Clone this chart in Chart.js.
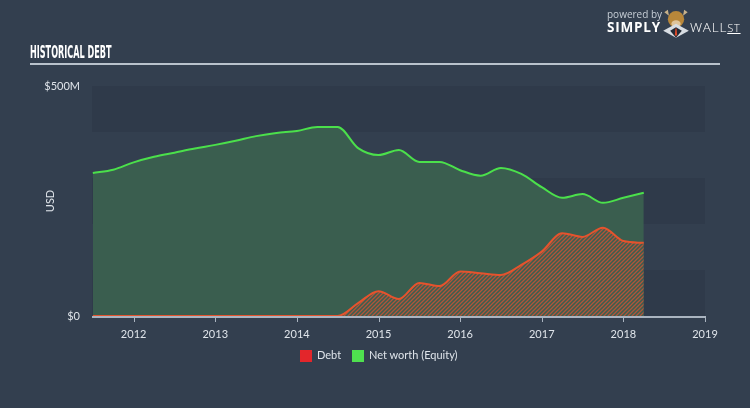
<!DOCTYPE html>
<html>
<head>
<meta charset="utf-8">
<script src="https://cdn.jsdelivr.net/npm/chart.js@4/dist/chart.umd.min.js"></script>
<style>
  html, body { margin:0; padding:0; background:#333f4f; }
  #wrap { position:relative; width:750px; height:408px; background:#333f4f; overflow:hidden; font-family: Lato, "Open Sans", sans-serif; }
  #c { position:absolute; left:0; top:0; }
  #title { position:absolute; left:30px; top:41px; color:#ffffff; font-family:"DejaVu Sans Condensed","Liberation Sans Narrow",sans-serif; font-weight:bold; font-size:18px; transform:scaleX(0.5); transform-origin:0 0; white-space:nowrap; }
  #rule { position:absolute; left:30px; top:63px; width:690px; height:2px; background:#b9c2cc; }
  #logo1 { position:absolute; left:607px; top:7px; color:#c7ced6; font-size:10px; font-family:"Open Sans",sans-serif; }
  #logo2 { position:absolute; left:607px; top:18px; color:#ffffff; font-size:13.5px; font-weight:bold; font-family:"Open Sans",sans-serif; letter-spacing:0.8px; }
  #logo3 { position:absolute; left:690px; top:18px; color:#ffffff; font-size:13.5px; font-family:"Open Sans",sans-serif; letter-spacing:0.8px; font-weight:300; }
  #logo3 span { text-decoration: underline; font-size:11px; }
  #bull { position:absolute; left:662px; top:5px; width:28px; height:33px; }
  .sw { position:absolute; width:12px; height:12px; top:350px; }
  .lt { position:absolute; top:348px; font-size:11px; color:#dfe4ea; font-family:Lato,sans-serif; white-space:nowrap; }
</style>
</head>
<body>
<div id="wrap">
  <canvas id="c" width="750" height="408"></canvas>
  <div id="title">HISTORICAL DEBT</div>
  <div id="rule"></div>
  <div id="logo1">powered by</div>
  <div id="logo2">SIMPLY</div>
  <svg id="bull" viewBox="0 0 24 28">
    <path d="M2 6 L6 9 L5 4 Z M22 6 L18 9 L19 4 Z" fill="#c9b28a"/>
    <ellipse cx="12" cy="12" rx="7" ry="7" fill="#b8873a"/>
    <ellipse cx="12" cy="16" rx="4" ry="3" fill="#e0c49a"/>
    <path d="M1 22 L12 28 L23 22 L12 16 Z" fill="#d8dde3"/>
    <path d="M7 22 L12 28 L17 22 L12 19 Z" fill="#222a35"/>
    <path d="M11.5 20 L12.5 20 L13 26 L11 26 Z" fill="#e04a2a"/>
  </svg>
  <div id="logo3">WALL<span>ST</span></div>
  <div class="sw" style="left:300px;background:#e3262b"></div>
  <div class="lt" style="left:317px">Debt</div>
  <div class="sw" style="left:352px;background:#4fe04f"></div>
  <div class="lt" style="left:369px">Net worth (Equity)</div>
</div>
<script>
// ---- data (USD millions) ----
const dates = [2011.5,2011.75,2012,2012.25,2012.5,2012.75,2013,2013.25,2013.5,2013.75,2014,2014.25,2014.5,2014.75,2015,2015.25,2015.5,2015.75,2016,2016.25,2016.5,2016.75,2017,2017.25,2017.5,2017.75,2018,2018.25];
const debt = [0,0,0,0,0,0,0,0,0,0,0,0,0,28,54,37,72,65,97,93,89,111,140,180,172,192,163,159];
const netWorth = [311,318,334,346,355,364,372,381,391,398,402,411,411,365,350,361,335,335,317,305,322,309,280,257,265,246,257,268];
const xTicks = [2012,2013,2014,2015,2016,2017,2018,2019];
const yLabels = {0:'$0', 500:'$500M'};

function pts(vals){ return dates.map((d,i)=>({x:d,y:vals[i]})); }

// hatch pattern for debt fill
const pc = document.createElement('canvas');
pc.width = 4; pc.height = 4;
const g = pc.getContext('2d');
g.fillStyle = '#3a5e4f'; g.fillRect(0,0,4,4);
g.strokeStyle = '#b0553a'; g.lineWidth = 1.3;
g.beginPath();
g.moveTo(-1,5); g.lineTo(5,-1);
g.moveTo(-1,1); g.lineTo(1,-1);
g.moveTo(3,5); g.lineTo(5,3);
g.stroke();
const hatch = document.getElementById('c').getContext('2d').createPattern(pc,'repeat');

const bands = {
  id:'bands',
  beforeDraw(chart){
    const {ctx, chartArea:a, scales:{y}} = chart;
    ctx.save();
    ctx.fillStyle = '#2f3a4a';
    [[400,500],[200,300],[0,100]].forEach(([lo,hi])=>{
      const t = y.getPixelForValue(hi), b = y.getPixelForValue(lo);
      ctx.fillRect(a.left, t, a.right-a.left, b-t);
    });
    ctx.restore();
  },
  afterDraw(chart){
    const {ctx, chartArea:a, scales:{x}} = chart;
    ctx.save();
    ctx.strokeStyle = '#aab4c0';
    ctx.lineWidth = 1;
    ctx.beginPath();
    xTicks.forEach(v=>{
      const px = Math.round(x.getPixelForValue(v)) + 0.5;
      ctx.moveTo(px, a.bottom); ctx.lineTo(px, a.bottom + 6);
    });
    ctx.stroke();
    ctx.lineWidth = 2;
    ctx.beginPath();
    ctx.moveTo(a.left, a.bottom + 1); ctx.lineTo(a.right, a.bottom + 1);
    ctx.stroke();
    ctx.restore();
  }
};

new Chart(document.getElementById('c'), {
  type:'line',
  data:{
    datasets:[
      { label:'Debt', data:pts(debt), borderColor:'#e5532d', borderWidth:2, backgroundColor:hatch, fill:'origin', pointRadius:0, cubicInterpolationMode:'monotone', order:0 },
      { label:'Net worth (Equity)', data:pts(netWorth), borderColor:'#4be04b', borderWidth:2, backgroundColor:'#3a5e4f', fill:'origin', pointRadius:0, cubicInterpolationMode:'monotone', order:1 }
    ]
  },
  options:{
    responsive:false, animation:false,
    layout:{ padding:{ left:30, right:45, top:86, bottom:67 } },
    plugins:{ legend:{display:false}, tooltip:{enabled:false} },
    scales:{
      x:{
        type:'linear', min:2011.49, max:2019,
        afterBuildTicks(s){ s.ticks = xTicks.map(v=>({value:v})); },
        afterFit(s){ s.height = 25; },
        ticks:{ color:'#dfe4ea', font:{family:'Lato', size:11}, padding:4, maxRotation:0, callback:v=>String(v) },
        grid:{ display:false },
        border:{ display:false }
      },
      y:{
        min:0, max:500,
        afterBuildTicks(s){ s.ticks = [0,100,200,300,400,500].map(v=>({value:v})); },
        afterFit(s){ s.width = 62; },
        title:{ display:true, text:'USD', color:'#dfe4ea', font:{family:'Lato', size:11}, padding:{top:14,bottom:0} },
        ticks:{ color:'#dfe4ea', font:{family:'Lato', size:11}, padding:4, callback:v=>yLabels[v]||'' },
        grid:{ display:false },
        border:{ display:false }
      }
    }
  },
  plugins:[bands]
});
</script>
</body>
</html>
